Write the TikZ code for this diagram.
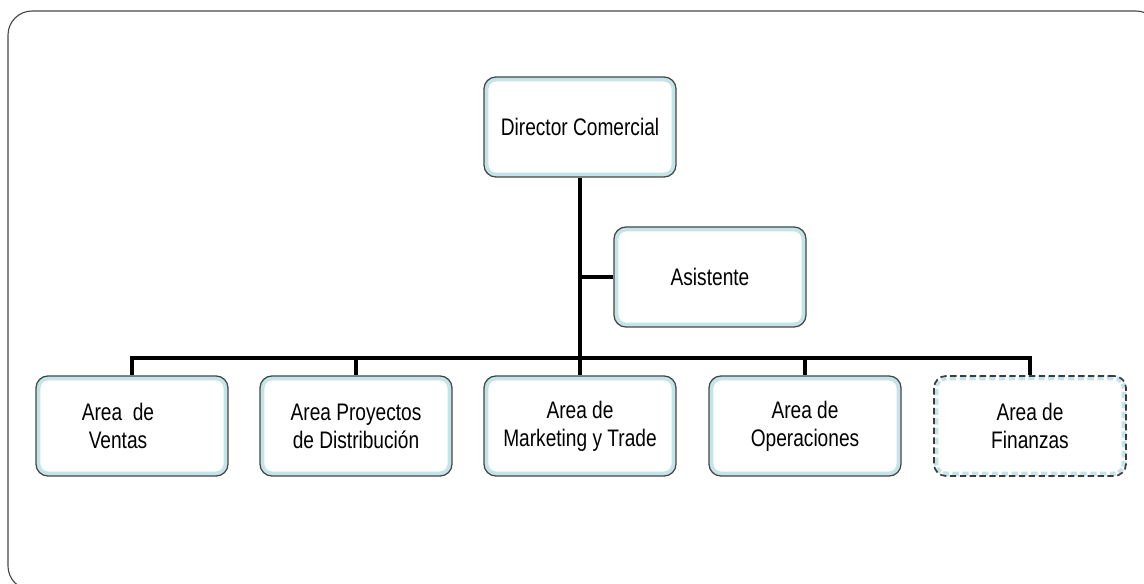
\documentclass[tikz,border=0pt]{standalone}
\usepackage{fontspec}
\setmainfont{Liberation Sans}[FakeStretch=0.8]
\usepackage{tikz}
\usetikzlibrary{shapes,arrows}
\definecolor{boxblue}{RGB}{196,228,233}
\definecolor{boxline}{RGB}{70,70,70}
\tikzset{unit/.style = {rectangle, rounded corners=0.3cm, draw=boxline,
                        line width=0.9pt, fill=white, inner sep=0pt,
                        minimum width=4.8cm, minimum height=2.5cm, align=center,
                        font=\fontsize{17}{20}\selectfont,
                        path picture={\draw[boxblue, line width=0.22cm, rounded corners=0.3cm]
                          (path picture bounding box.south west) rectangle
                          (path picture bounding box.north east);}},
         vacant/.style = {draw=boxline!85!black, line width=1.2pt, dash pattern=on 4.5pt off 2.5pt},
         link/.style = {line width=2.4pt, black},
         frame/.style = {draw=boxline, line width=0.8pt, rounded corners=0.6cm}}

\begin{document}
\begin{tikzpicture}[x=0.025cm, y=-0.025cm]
  \clip (0,0) rectangle (1144,584);
  \draw[frame] (8,11) rectangle (1160,590);
  \node[unit] (DC) at (580,127) {Director Comercial};
  \node[unit] (AS) at (710,277) {Asistente};
  \node[unit] (V) at (132,426) {Area~ de\hspace*{0.7cm}\\Ventas\hspace*{0.7cm}};
  \node[unit] (P) at (356,426) {Area Proyectos\\ de Distribución};
  \node[unit] (M) at (580,426) {Area de\\Marketing y Trade};
  \node[unit] (O) at (805,426) {Area de\\Operaciones};
  \node[unit, vacant] (F) at (1030,426) {Area de\\Finanzas};
  \coordinate (bus) at (580,358);
  \draw[link] (DC.south) -- (M.north);
  \draw[link] (AS.west) -- (AS.west -| DC.south);
  \foreach \n in {V,P,O,F}
    \draw[link] (bus) -| (\n.north);
\end{tikzpicture}
\end{document}
